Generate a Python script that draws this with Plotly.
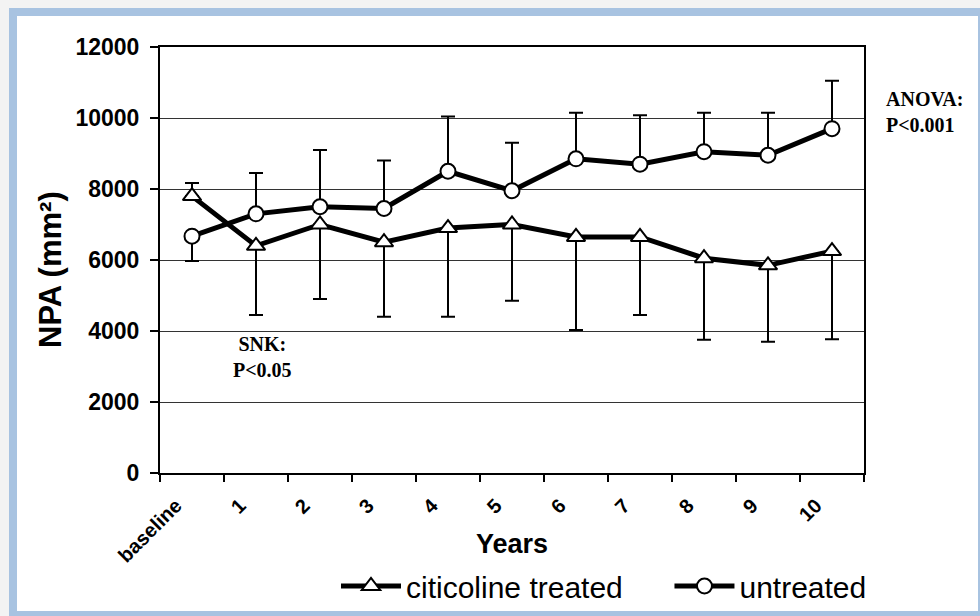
import plotly.graph_objects as go

# ---------------- data ----------------
categories = ["baseline", "1", "2", "3", "4", "5", "6", "7", "8", "9", "10"]

treated = [7800, 6400, 7000, 6500, 6900, 7000, 6650, 6650, 6050, 5850, 6250]
treated_err_plus = [370, 0, 0, 0, 0, 0, 0, 0, 0, 0, 0]
treated_err_minus = [0, 1950, 2100, 2100, 2500, 2150, 2620, 2200, 2300, 2150, 2480]

untreated = [6670, 7300, 7500, 7450, 8500, 7950, 8850, 8700, 9050, 8950, 9700]
untreated_err_plus = [0, 1150, 1600, 1350, 1540, 1350, 1300, 1380, 1100, 1200, 1350]
untreated_err_minus = [700, 0, 0, 0, 0, 0, 0, 0, 0, 0, 0]

series_names = ["citicoline treated", "untreated"]
y_ticks = [0, 2000, 4000, 6000, 8000, 10000, 12000]

# ---------------- layout geometry (pixels) ----------------
W, H = 980, 616
L, R, T, B = 160, 116, 47, 143
PW, PH = W - L - R, H - T - B


def px(x):
    return (x - L) / PW


def py(y):
    return (H - B - y) / PH


SANS = "Liberation Sans, Arial, sans-serif"
SERIF = "Liberation Serif, Times New Roman, serif"
PAD = "\u00a0" * 5  # spacing between the two legend entries

fig = go.Figure()

fig.add_trace(go.Scatter(
    x=categories, y=treated, name=series_names[0] + PAD,
    mode="lines+markers",
    line=dict(color="black", width=5),
    marker=dict(symbol="triangle-up", size=16, color="white",
                line=dict(color="black", width=2)),
    error_y=dict(type="data", symmetric=False, array=treated_err_plus,
                 arrayminus=treated_err_minus, color="black",
                 thickness=2, width=7),
))

fig.add_trace(go.Scatter(
    x=categories, y=untreated, name=series_names[1],
    mode="lines+markers",
    line=dict(color="black", width=5),
    marker=dict(symbol="circle", size=15, color="white",
                line=dict(color="black", width=2)),
    error_y=dict(type="data", symmetric=False, array=untreated_err_plus,
                 arrayminus=untreated_err_minus, color="black",
                 thickness=2, width=7),
))

fig.update_layout(
    width=W, height=H,
    margin=dict(l=L, r=R, t=T, b=B, pad=0, autoexpand=False),
    paper_bgcolor="#f3f3f3",
    plot_bgcolor="white",
    font=dict(family=SANS, color="black"),
    showlegend=True,
    legend=dict(
        orientation="h", x=px(336), xanchor="left", y=py(586), yanchor="middle",
        bgcolor="rgba(0,0,0,0)", font=dict(family=SANS, size=30, color="black"),
        itemwidth=60, tracegroupgap=0,
    ),
    xaxis=dict(
        type="category", range=[-0.5, 10.5],
        showline=True, linecolor="black", linewidth=2, mirror=True,
        ticks="outside", tickson="boundaries", ticklen=7, tickwidth=2,
        tickcolor="black", tickangle=-45,
        ticklabelstandoff=11, ticklabelshift=-16,
        tickfont=dict(family=SANS, size=20, color="black", weight="bold"),
        showgrid=False, zeroline=False,
    ),
    yaxis=dict(
        range=[0, 12000], tickvals=y_ticks,
        ticktext=[str(v) for v in y_ticks],
        showline=True, linecolor="black", linewidth=2, mirror=True,
        ticks="outside", ticklen=8, tickwidth=2, tickcolor="black",
        ticklabelstandoff=6,
        tickfont=dict(family=SANS, size=23, color="black", weight="bold"),
        showgrid=True, gridcolor="#333333", gridwidth=1, zeroline=False,
    ),
    shapes=[dict(
        type="rect", xref="paper", yref="paper", layer="below",
        x0=px(13), x1=px(982), y0=py(12), y1=py(615),
        line=dict(color="#a8c3e1", width=8), fillcolor="white",
    )],
    annotations=[
        dict(text="NPA (mm²)", xref="paper", yref="paper", x=px(50), y=py(270),
             xanchor="center", yanchor="middle", textangle=-90, showarrow=False,
             font=dict(family=SANS, size=31, color="black", weight="bold")),
        dict(text="Years", xref="paper", yref="paper", x=0.5, y=py(544),
             xanchor="center", yanchor="middle", showarrow=False,
             font=dict(family=SANS, size=27, color="black", weight="bold")),
        dict(text="ANOVA:<br>P<0.001", xref="paper", yref="paper",
             x=px(884), y=py(112), xanchor="left", yanchor="middle",
             align="left", showarrow=False,
             font=dict(family=SERIF, size=20, color="black", weight="bold")),
        dict(text="SNK:<br>P<0.05", xref="paper", yref="paper",
             x=px(262), y=py(357), xanchor="center", yanchor="middle",
             align="center", showarrow=False,
             font=dict(family=SERIF, size=20, color="black", weight="bold")),
    ],
)

fig.write_html("out.html")
